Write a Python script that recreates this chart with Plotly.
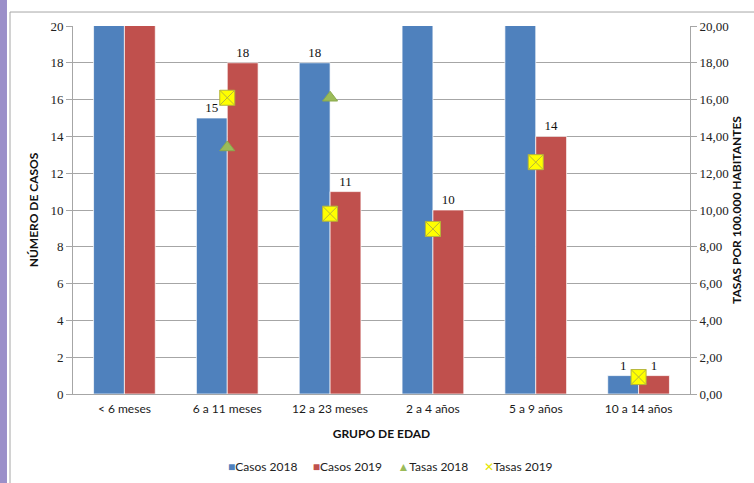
import plotly.graph_objects as go

# Age groups and yearly values
grupos = ["< 6 meses", "6 a 11 meses", "12 a 23 meses", "2 a 4 años", "5 a 9 años", "10 a 14 años"]
casos_2018 = [34, 15, 18, 26, 24, 1]
casos_2019 = [31, 18, 11, 10, 14, 1]
tasas_2018 = [30.5, 13.4, 16.1, 23.4, 21.6, 0.92]
tasas_2019 = [27.8, 16.1, 9.8, 8.97, 12.6, 0.92]

Y_MAX = 20
AZUL = "#4f81bd"
ROJO = "#c0504d"
VERDE = "#9bbb59"
AMARILLO = "#ffff00"
SANS = "Lato"
SERIF = "Liberation Serif"


def etiquetas(valores):
    # only label bars whose top lies inside the axis range
    return [str(v) if v <= Y_MAX else "" for v in valores]


fig = go.Figure()
for nombre, valores, color in [("Casos 2018", casos_2018, AZUL), ("Casos 2019", casos_2019, ROJO)]:
    fig.add_trace(go.Bar(
        name=nombre, x=grupos, y=valores,
        marker=dict(color=color, line=dict(color="rgba(255,255,255,0.7)", width=1)),
        text=etiquetas(valores), textposition="outside", cliponaxis=False, constraintext="none",
        textfont=dict(family=SERIF, size=13, color="#111"),
    ))

fig.add_trace(go.Scatter(
    name="Tasas 2018", x=grupos, y=tasas_2018, yaxis="y2", mode="markers",
    marker=dict(symbol="triangle-up", size=13, color=VERDE, line=dict(color="#8aa94c", width=1)),
))
fig.add_trace(go.Scatter(
    name="Tasas 2019", x=grupos, y=tasas_2019, yaxis="y2", mode="markers",
    marker=dict(symbol="square-x", size=15, color=AMARILLO, line=dict(color="#b5b53a", width=1)),
))

# compact legend row below the axis title
leyenda = [("■", AZUL, "Casos 2018"), ("■", ROJO, "Casos 2019"),
           ("▲", VERDE, "Tasas 2018"), ("✕", "#e6e600", "Tasas 2019")]
texto_leyenda = "     ".join(
    f"<span style='color:{c}'>{s}</span>{t}" for s, c, t in leyenda
)

fig.update_layout(
    width=754, height=483,
    margin=dict(l=73, r=64, t=26, b=89),
    paper_bgcolor="white", plot_bgcolor="white",
    separators=",.",
    barmode="group", bargap=0.4, bargroupgap=0.0,
    showlegend=False,
    xaxis=dict(
        automargin=False,
        showline=True, linecolor="#a6a6a6", linewidth=1, ticks="", ticklabelstandoff=4,
        tickfont=dict(family=SANS, size=12, color="#1a1a1a"),
        title=dict(text="GRUPO DE EDAD", font=dict(family=SANS, size=12, color="#111", weight="bold"), standoff=14),
    ),
    yaxis=dict(
        automargin=False,
        range=[0, Y_MAX], dtick=2, showgrid=True, gridcolor="#a6a6a6", gridwidth=1,
        showline=True, linecolor="#a6a6a6", ticks="outside", ticklen=6, tickcolor="#a6a6a6",
        tickfont=dict(family=SERIF, size=13, color="#222"), zeroline=False,
        title=dict(text="NÚMERO DE CASOS", font=dict(family=SANS, size=12, color="#111", weight="bold"), standoff=9),
    ),
    yaxis2=dict(
        automargin=False,
        range=[0, Y_MAX], dtick=2, overlaying="y", side="right", showgrid=False,
        showline=True, linecolor="#a6a6a6", ticks="outside", ticklen=6, tickcolor="#a6a6a6",
        tickformat=".2f", tickfont=dict(family=SERIF, size=13, color="#222"), zeroline=False,
        title=dict(text="TASAS POR 100.000 HABITANTES", font=dict(family=SANS, size=12, color="#111", weight="bold"), standoff=4),
    ),
    annotations=[
        dict(text=texto_leyenda, xref="paper", yref="paper", x=0.514, y=-0.198,
             xanchor="center", yanchor="middle", showarrow=False,
             font=dict(family=SANS, size=12, color="#222")),
    ],
    shapes=[
        # lavender strip at the left edge
        dict(type="rect", xref="paper", yref="paper", x0=-0.1183, x1=-0.1070, y0=-0.25, y1=1.08,
             fillcolor="#9b8fc9", line=dict(width=0), layer="below"),
        # outer chart frame (top and left edges)
        dict(type="line", xref="paper", yref="paper", x0=-0.1021, x1=1.11, y0=1.038, y1=1.038,
             line=dict(color="#a6a6a6", width=1)),
        dict(type="line", xref="paper", yref="paper", x0=-0.1021, x1=-0.1021, y0=-0.25, y1=1.038,
             line=dict(color="#a6a6a6", width=1)),
    ],
)

fig.write_html("out.html")
